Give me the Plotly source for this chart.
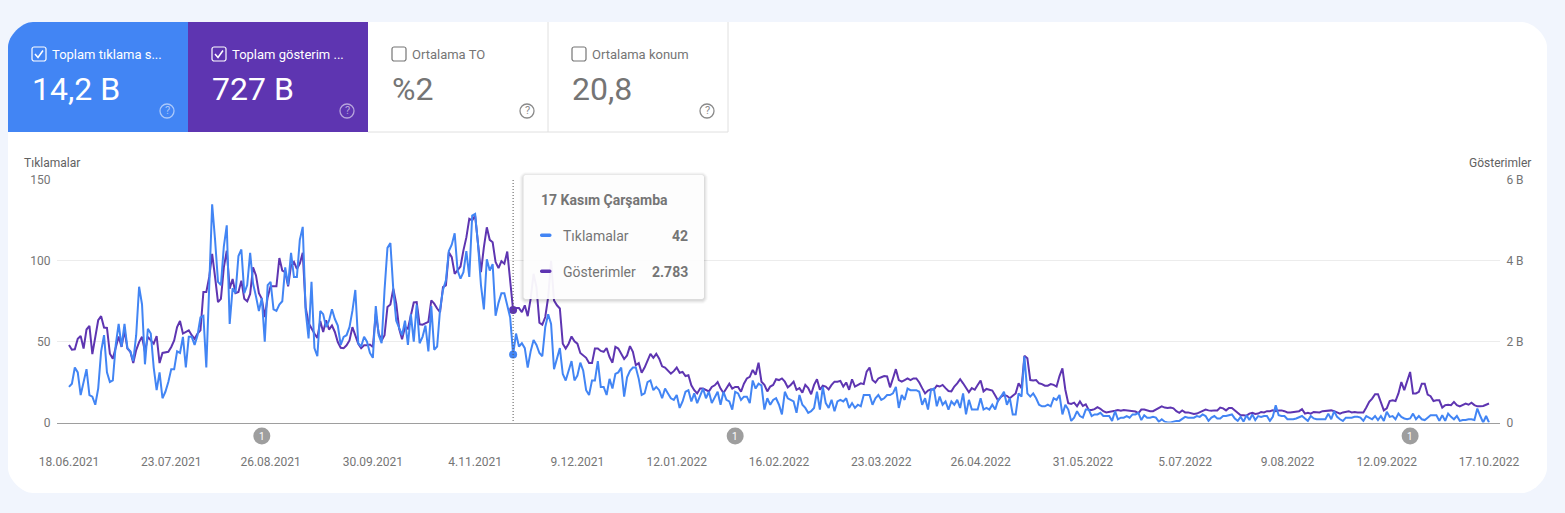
import pandas as pd
import plotly.graph_objects as go

W, H = 1565, 513

dates = pd.date_range("2021-06-18", "2022-10-17", freq="D")

clicks = [
    22, 24, 34, 31, 17, 26, 33, 17, 16, 11,
    21, 44, 54, 31, 25, 26, 48, 61, 47, 61,
    46, 44, 38, 54, 84, 73, 36, 58, 55, 34,
    20, 31, 15, 19, 25, 33, 33, 44, 43, 53,
    34, 53, 53, 48, 54, 65, 66, 34, 86, 135,
    113, 87, 85, 109, 122, 61, 83, 80, 103, 107,
    80, 85, 105, 86, 78, 69, 77, 50, 85, 87,
    70, 69, 73, 75, 96, 85, 105, 90, 90, 113,
    121, 69, 52, 87, 46, 41, 69, 67, 59, 63,
    70, 64, 60, 48, 53, 54, 59, 69, 82, 49,
    47, 53, 50, 43, 40, 72, 54, 49, 82, 108,
    111, 82, 63, 58, 54, 63, 48, 67, 50, 73,
    49, 53, 60, 44, 72, 45, 47, 70, 82, 88,
    106, 110, 117, 94, 89, 93, 106, 90, 128, 129,
    110, 85, 70, 101, 94, 98, 66, 74, 80, 80,
    73, 65, 42, 55, 47, 49, 46, 34, 44, 51,
    48, 43, 41, 59, 67, 61, 33, 39, 46, 30,
    26, 32, 38, 26, 29, 37, 32, 20, 17, 26,
    26, 38, 22, 22, 17, 27, 21, 30, 31, 34,
    16, 28, 32, 34, 34, 27, 17, 18, 25, 26,
    20, 22, 20, 15, 21, 18, 15, 14, 17, 9,
    13, 19, 20, 13, 18, 12, 16, 21, 15, 19,
    12, 16, 19, 11, 19, 14, 13, 8, 19, 18,
    14, 16, 16, 12, 26, 21, 24, 23, 8, 15,
    11, 14, 15, 11, 5, 19, 15, 14, 13, 6,
    17, 11, 9, 6, 7, 9, 19, 8, 22, 12,
    9, 14, 7, 13, 14, 13, 15, 9, 12, 9,
    11, 10, 17, 17, 17, 11, 15, 17, 14, 15,
    17, 17, 18, 22, 9, 17, 14, 21, 20, 20,
    20, 19, 11, 15, 8, 20, 21, 10, 16, 11,
    13, 8, 13, 11, 14, 9, 18, 5, 14, 8,
    8, 8, 15, 8, 9, 8, 11, 8, 14, 16,
    19, 11, 15, 5, 5, 18, 16, 41, 18, 16,
    18, 15, 11, 10, 10, 11, 10, 15, 14, 17,
    5, 11, 8, 1, 3, 7, 4, 3, 8, 8,
    4, 5, 5, 6, 4, 4, 4, 1, 7, 2,
    3, 3, 4, 3, 5, 5, 6, 1.5, 4.5, 3,
    3, 3.5, 3, 0.5, 2, 0.5, 0, 0, 0.5, 1,
    1, 2, 3.5, 3, 3, 3, 4, 3.5, 5, 4,
    1, 3, 4, 2.5, 2.5, 4, 4, 4.5, 5, 2.5,
    1, 3.5, 0.5, 4.5, 1.5, 5, 1.5, 4, 3.5, 4,
    4, 1, 3.5, 10.7, 4.5, 4, 4, 2, 2, 2,
    2.5, 3.5, 4, 2.5, 1, 4, 2.5, 2, 2, 2,
    2, 5.5, 2, 7, 3.5, 2, 1, 3, 3, 3,
    3.5, 3.5, 3, 1, 4, 3, 2, 4, 1.5, 4,
    1, 6.6, 3.5, 4, 2, 5.5, 3.5, 2.5, 2, 2.5,
    5.5, 2, 4, 2, 1.5, 3, 4.5, 4.5, 4.5, 1,
    4.5, 1, 5.5, 3.5, 2, 4, 1, 1.5, 1.5, 2,
    2, 1.5, 8.6, 4, 0, 4, 0,
]

impressions = [
    1.92, 1.80, 1.81, 2.07, 2.14, 1.83, 2.30, 2.39, 1.69, 2.07,
    2.53, 2.63, 2.35, 2.34, 1.70, 1.58, 1.87, 2.13, 1.87, 2.28,
    1.83, 1.75, 1.47, 1.79, 1.99, 2.12, 1.75, 2.12, 2.03, 1.95,
    2.14, 1.47, 1.72, 1.73, 1.75, 1.87, 2.03, 2.36, 2.51, 2.20,
    2.23, 2.28, 2.16, 2.07, 2.20, 2.28, 3.23, 3.23, 3.60, 4.17,
    3.60, 2.98, 3.06, 3.84, 4.25, 3.31, 3.55, 3.20, 3.23, 3.51,
    3.06, 3.00, 3.18, 3.84, 3.64, 3.20, 3.06, 2.61, 3.10, 3.37,
    3.37, 3.37, 4.07, 3.76, 3.72, 3.37, 3.88, 3.97, 3.80, 3.93,
    4.20, 2.85, 2.46, 2.32, 2.20, 2.09, 2.51, 2.24, 2.53, 2.30,
    2.40, 2.24, 1.99, 1.85, 1.84, 1.91, 2.03, 2.36, 2.16, 1.95,
    1.84, 1.91, 1.91, 1.93, 1.87, 2.69, 2.20, 2.03, 2.16, 2.86,
    2.92, 3.31, 2.94, 2.32, 2.06, 2.36, 2.32, 2.69, 2.97, 2.98,
    2.43, 2.42, 2.46, 2.49, 3.02, 2.94, 2.82, 2.73, 3.35, 3.39,
    4.21, 4.09, 3.68, 3.78, 3.86, 4.26, 4.58, 5.04, 5.00, 5.12,
    4.42, 3.72, 4.34, 4.83, 4.52, 4.46, 3.97, 3.82, 3.99, 3.93,
    4.23, 3.43, 2.783, 2.83, 2.83, 2.73, 2.90, 2.63, 3.06, 3.68,
    3.35, 2.47, 2.42, 2.61, 3.10, 4.00, 3.02, 2.90, 2.82, 1.95,
    1.83, 1.95, 2.13, 2.01, 1.95, 1.72, 1.65, 1.60, 1.47, 1.47,
    1.83, 1.83, 1.77, 1.75, 1.84, 1.62, 1.48, 1.87, 1.83, 1.68,
    1.57, 1.66, 1.89, 1.75, 1.42, 1.47, 1.23, 1.36, 1.54, 1.70,
    1.60, 1.70, 1.58, 1.39, 1.36, 1.29, 1.21, 1.27, 1.36, 1.23,
    1.25, 1.15, 1.17, 0.92, 0.80, 0.72, 0.84, 0.84, 0.80, 0.77,
    0.88, 0.92, 1.00, 0.84, 0.73, 0.84, 0.96, 0.84, 0.88, 0.88,
    0.76, 0.96, 1.09, 1.13, 1.30, 1.18, 1.48, 1.01, 0.93, 0.77,
    0.89, 0.93, 1.07, 1.05, 1.09, 1.01, 0.87, 0.93, 1.01, 0.81,
    0.85, 0.74, 0.93, 0.85, 0.70, 0.93, 1.07, 0.81, 0.91, 0.89,
    0.82, 0.93, 1.01, 1.01, 1.03, 0.89, 0.99, 0.81, 1.07, 0.89,
    0.93, 0.97, 0.95, 1.26, 1.36, 1.05, 0.99, 1.09, 1.12, 1.15,
    1.14, 0.87, 1.09, 1.32, 1.05, 1.01, 1.05, 1.09, 1.05, 1.09,
    1.09, 0.99, 0.85, 0.72, 0.79, 0.82, 0.81, 0.91, 0.89, 0.93,
    0.85, 0.78, 0.77, 0.89, 0.97, 1.07, 0.97, 0.87, 0.75, 0.85,
    0.81, 0.93, 1.04, 0.77, 0.83, 0.81, 0.79, 0.67, 0.54, 0.64,
    0.68, 0.66, 0.60, 0.66, 0.72, 0.97, 0.85, 1.65, 1.59, 1.05,
    1.04, 1.05, 0.97, 0.95, 0.91, 0.91, 0.95, 0.93, 0.89, 1.15,
    1.34, 0.81, 0.48, 0.46, 0.49, 0.40, 0.52, 0.41, 0.45, 0.31,
    0.31, 0.33, 0.38, 0.34, 0.28, 0.25, 0.26, 0.27, 0.29, 0.31,
    0.29, 0.31, 0.30, 0.29, 0.27, 0.27, 0.23, 0.32, 0.32, 0.30,
    0.28, 0.28, 0.32, 0.37, 0.40, 0.37, 0.36, 0.37, 0.35, 0.28,
    0.24, 0.30, 0.25, 0.25, 0.22, 0.21, 0.22, 0.25, 0.28, 0.32,
    0.30, 0.29, 0.30, 0.30, 0.37, 0.35, 0.30, 0.36, 0.36, 0.30,
    0.22, 0.18, 0.18, 0.17, 0.22, 0.24, 0.21, 0.22, 0.26, 0.25,
    0.28, 0.28, 0.30, 0.28, 0.30, 0.30, 0.28, 0.25, 0.25, 0.26,
    0.28, 0.28, 0.33, 0.22, 0.24, 0.22, 0.26, 0.26, 0.25, 0.28,
    0.29, 0.30, 0.30, 0.28, 0.24, 0.22, 0.25, 0.26, 0.28, 0.25,
    0.26, 0.25, 0.25, 0.25, 0.37, 0.51, 0.59, 0.70, 0.70, 0.47,
    0.30, 0.35, 0.53, 0.55, 0.53, 0.72, 1.00, 0.80, 1.00, 1.25,
    0.72, 0.72, 0.76, 0.96, 0.96, 0.69, 0.65, 0.53, 0.55, 0.55,
    0.37, 0.43, 0.44, 0.43, 0.51, 0.43, 0.40, 0.43, 0.47, 0.44,
    0.49, 0.43, 0.40, 0.40, 0.41, 0.44, 0.47,
]

tick_dates = ["2021-06-18", "2021-07-23", "2021-08-26", "2021-09-30", "2021-11-04",
              "2021-12-09", "2022-01-12", "2022-02-16", "2022-03-23", "2022-04-26",
              "2022-05-31", "2022-07-05", "2022-08-09", "2022-09-12", "2022-10-17"]
tick_labels = ["18.06.2021", "23.07.2021", "26.08.2021", "30.09.2021", "4.11.2021",
               "9.12.2021", "12.01.2022", "16.02.2022", "23.03.2022", "26.04.2022",
               "31.05.2022", "5.07.2022", "9.08.2022", "12.09.2022", "17.10.2022"]
note_dates = ["2021-08-23", "2022-02-01", "2022-09-20"]

hover_date = "2021-11-17"
hover_i = list(dates).index(pd.Timestamp(hover_date))

BLUE = "#4285f4"
PURPLE = "#5e35b1"
GREY = "#757575"
FONT = "Roboto"


def px(x):
    return x / W


def py(y):
    return 1 - y / H


def path(d):
    # d is a list of (cmd, x, y) in page pixels
    return " ".join(f"{c}{px(x):.5f},{py(y):.5f}" for c, x, y in d)


def rect(x0, y0, x1, y1, fill, line=None, lw=0, opacity=1):
    return dict(type="rect", xref="paper", yref="paper", x0=px(x0), x1=px(x1), y0=py(y0), y1=py(y1),
                fillcolor=fill, line=dict(color=line or fill, width=lw), opacity=opacity, layer="above")


def rounded(x0, y0, x1, y1, r, fill, line=None, lw=0, opacity=1, corners="tl tr br bl"):
    k = r * 0.45
    rt = lambda c: r if c in corners else 0
    tl, tr, br, bl = rt("tl"), rt("tr"), rt("br"), rt("bl")
    d = f"M{px(x0)},{py(y0 + tl)} "
    if tl:
        d += f"C{px(x0)},{py(y0 + tl - k)} {px(x0 + tl - k)},{py(y0)} {px(x0 + tl)},{py(y0)} "
    d += f"L{px(x1 - tr)},{py(y0)} "
    if tr:
        d += f"C{px(x1 - tr + k)},{py(y0)} {px(x1)},{py(y0 + tr - k)} {px(x1)},{py(y0 + tr)} "
    d += f"L{px(x1)},{py(y1 - br)} "
    if br:
        d += f"C{px(x1)},{py(y1 - br + k)} {px(x1 - br + k)},{py(y1)} {px(x1 - br)},{py(y1)} "
    d += f"L{px(x0 + bl)},{py(y1)} "
    if bl:
        d += f"C{px(x0 + bl - k)},{py(y1)} {px(x0)},{py(y1 - bl + k)} {px(x0)},{py(y1 - bl)} "
    d += "Z"
    return dict(type="path", xref="paper", yref="paper", path=d, fillcolor=fill,
                line=dict(color=line or fill, width=lw), opacity=opacity, layer="above")


def seg(x0, y0, x1, y1, color, lw=1):
    return dict(type="line", xref="paper", yref="paper", x0=px(x0), x1=px(x1), y0=py(y0), y1=py(y1),
                line=dict(color=color, width=lw), layer="above")


def text(x, y, s, size, color, anchor="left", bold=False):
    return dict(xref="paper", yref="paper", x=px(x), y=py(y), text=f"<b>{s}</b>" if bold else s,
                showarrow=False, xanchor=anchor, yanchor="middle",
                font=dict(family=FONT, size=size, color=color), borderpad=0, borderwidth=0)


fig = go.Figure()

# purple goes on the first y axis so that the blue line lands on top of it
fig.add_trace(go.Scatter(x=dates, y=impressions, mode="lines", yaxis="y", name="Gösterimler",
                         line=dict(color=PURPLE, width=2, shape="linear")))
fig.add_trace(go.Scatter(x=dates, y=clicks, mode="lines", yaxis="y2", name="Tıklamalar",
                         line=dict(color=BLUE, width=2, shape="linear")))
fig.add_trace(go.Scatter(x=[hover_date], y=[impressions[hover_i]], mode="markers", yaxis="y",
                         marker=dict(color=PURPLE, size=8), showlegend=False))
fig.add_trace(go.Scatter(x=[hover_date], y=[clicks[hover_i]], mode="markers", yaxis="y2",
                         marker=dict(color=BLUE, size=8), showlegend=False))

shapes = []
# tiles
tiles = [
    (8, 188, BLUE, "white", "Toplam tıklama s...", "14,2 B", True),
    (188, 368, PURPLE, "white", "Toplam gösterim ...", "727 B", True),
    (368, 548, "white", GREY, "Ortalama TO", "%2", False),
    (548, 728, "white", GREY, "Ortalama konum", "20,8", False),
]
annos = []
shapes.append(seg(548, 22, 548, 132, "#e0e0e0"))
shapes.append(seg(728, 22, 728, 132, "#e0e0e0"))
shapes.append(seg(368, 132, 728, 132, "#e0e0e0"))
shapes.append(rounded(8, 22, 188, 132, 25, BLUE, corners="tl"))
shapes.append(rect(188, 22, 368, 132, PURPLE))
for x0, x1, fill, fg, label, value, checked in tiles:
    bx = x0 + 24
    shapes.append(rounded(bx, 47, bx + 14, 61, 2, fill, line=fg, lw=1.2))
    if checked:
        shapes.append(dict(type="path", xref="paper", yref="paper", layer="above",
                           path=path([("M", bx + 3, 54), ("L", bx + 6, 57.5), ("L", bx + 11, 50.5)]),
                           line=dict(color=fg, width=1.5)))
    annos.append(text(bx + 20, 54, label, 13, fg))
    annos.append(text(bx, 89, value, 32, fg))
    icon = "rgba(255,255,255,0.55)" if checked else "#8a8a8a"
    shapes.append(dict(type="circle", xref="paper", yref="paper", layer="above",
                       x0=px(x1 - 28), x1=px(x1 - 14), y0=py(104), y1=py(118),
                       line=dict(color=icon, width=1.3)))
    annos.append(text(x1 - 21, 111, "?", 11, icon, anchor="center"))

# hover line
shapes.append(dict(type="line", xref="x", yref="paper", x0=hover_date, x1=hover_date, y0=py(180), y1=py(423),
                   line=dict(color="#555555", width=1, dash="1px,2px"), layer="above"))

# annotation badges under the axis, anchored to their dates
for d in note_dates:
    shapes.append(dict(type="circle", xref="x", yref="paper", xsizemode="pixel", xanchor=d,
                       x0=-8.5, x1=8.5, y0=py(444.5), y1=py(427.5),
                       fillcolor="#9e9e9e", line=dict(width=0), layer="above"))
    annos.append(dict(xref="x", yref="paper", x=d, y=py(436), text="1", showarrow=False,
                      xanchor="center", yanchor="middle", font=dict(family=FONT, size=10, color="white")))

# tooltip with a soft shadow
for grow, op in [(4, 0.02), (3, 0.03), (2, 0.04), (1, 0.05)]:
    shapes.append(rounded(523.5 - grow, 175 - grow + 1, 704 + grow, 299 + grow + 1, 2 + grow, "#000000", opacity=op))
shapes.append(rounded(523.5, 175, 704, 299, 2, "white", opacity=0.94))
shapes.append(rounded(540, 233.5, 551.5, 237, 1.5, BLUE))
shapes.append(rounded(540, 269.5, 551.5, 273, 1.5, PURPLE))
annos.append(text(541, 200, "17 Kasım Çarşamba", 14, GREY, bold=True))
annos.append(text(563, 236, "Tıklamalar", 14, GREY))
annos.append(text(563, 272, "Gösterimler", 14, GREY))
annos.append(text(688, 236, "42", 14, GREY, anchor="right", bold=True))
annos.append(text(688, 272, "2.783", 14, GREY, anchor="right", bold=True))

annos.append(text(24, 163, "Tıklamalar", 12, "#616161"))
annos.append(text(1531, 163, "Gösterimler", 12, "#616161", anchor="right"))

# white card sits below everything
card = rounded(8, 22, 1547, 493, 25, "white")
card["layer"] = "below"
shapes.insert(0, card)

x_start = dates[0] - pd.Timedelta(hours=4.1 * 24)
x_end = dates[-1] + pd.Timedelta(hours=3.76 * 24)
tick_font = dict(family=FONT, size=12, color=GREY)

fig.update_layout(
    width=W, height=H, margin=dict(l=0, r=0, t=0, b=0, pad=0, autoexpand=False),
    paper_bgcolor="#f1f5fd", plot_bgcolor="rgba(0,0,0,0)",
    showlegend=False, hovermode=False, shapes=shapes, annotations=annos,
    font=dict(family=FONT),
    xaxis=dict(domain=[px(57), px(1500)], range=[x_start, x_end], type="date",
               tickmode="array", tickvals=tick_dates, ticktext=tick_labels, tickfont=tick_font,
               showgrid=False, zeroline=False, showline=True, linecolor="#9e9e9e", linewidth=1,
               ticks="outside", ticklen=28, tickcolor="rgba(0,0,0,0)", anchor="y"),
    yaxis=dict(domain=[py(422.5), py(180)], range=[0, 6], side="right", anchor="x",
               tickmode="array", tickvals=[0, 2, 4, 6], ticktext=["0", "2 B", "4 B", "6 B"],
               tickfont=tick_font, showgrid=True, gridcolor="#ececec", gridwidth=1,
               zeroline=False, showline=False, ticks="outside", ticklen=3, tickcolor="rgba(0,0,0,0)"),
    yaxis2=dict(domain=[py(422.5), py(180)], range=[0, 150], side="left", overlaying="y", anchor="x",
                tickmode="array", tickvals=[0, 50, 100, 150], tickfont=tick_font, showgrid=False,
                zeroline=False, showline=False, ticks="outside", ticklen=3, tickcolor="rgba(0,0,0,0)"),
)

print(len(dates), len(clicks), len(impressions))

fig.write_html("out.html", config={"displayModeBar": False},
               post_script="document.body.style.margin='0';document.body.style.overflow='hidden';")
